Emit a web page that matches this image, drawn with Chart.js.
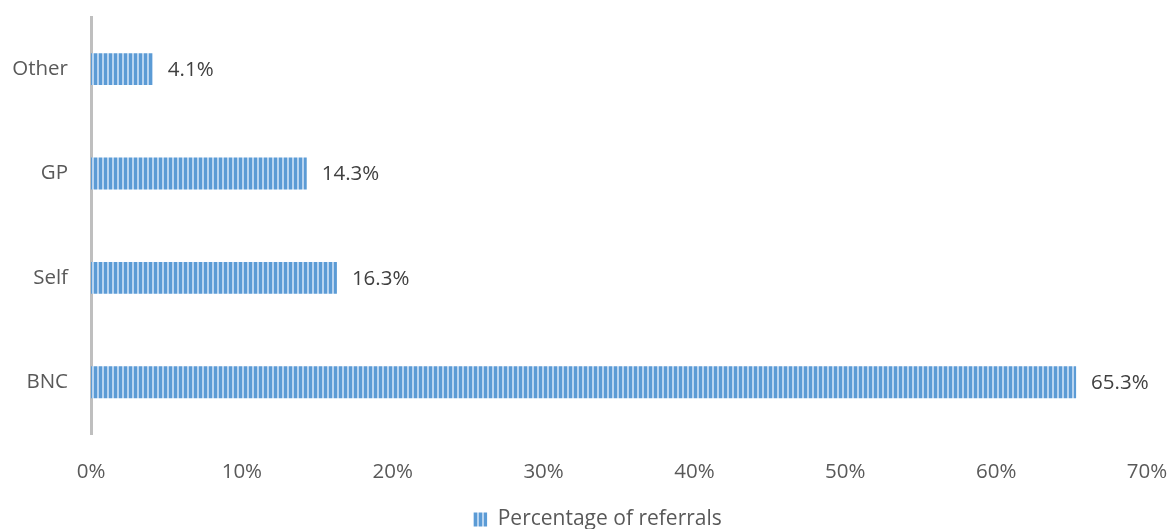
<!DOCTYPE html>
<html lang="en">
<head>
    <meta charset="UTF-8">
    <title>Percentage of referrals</title>
    <style>
        html, body {
            margin: 0;
            padding: 0;
            background: #fff;
        }
        #wrap {
            width: 1171px;
            height: 529px;
        }
    </style>
</head>
<body>
    <div id="wrap"><canvas id="referralChart" width="1171" height="529"></canvas></div>

    <script src="https://cdn.jsdelivr.net/npm/chart.js"></script>
    <script>
        const sources = ['Other', 'GP', 'Self', 'BNC'];
        const referralPct = [4.1, 14.3, 16.3, 65.3];
        const xTicks = [0, 10, 20, 30, 40, 50, 60, 70];

        // vertical stripe fill for the bars
        function stripePattern() {
            const c = document.createElement('canvas');
            c.width = 5;
            c.height = 5;
            const g = c.getContext('2d');
            g.fillStyle = '#5b9bd5';
            g.fillRect(0, 0, 5, 5);
            g.fillStyle = '#b8d4f0';
            g.fillRect(2, 0, 2, 5);
            return g.createPattern(c, 'repeat');
        }

        const fontFamily = '"Open Sans", "Liberation Sans", sans-serif';

        // prints the value to the right of each bar
        const valueLabels = {
            id: 'valueLabels',
            afterDatasetsDraw(chart) {
                const ctx = chart.ctx;
                const meta = chart.getDatasetMeta(0);
                ctx.save();
                ctx.font = '20.5px ' + fontFamily;
                ctx.fillStyle = '#404040';
                ctx.textAlign = 'left';
                ctx.textBaseline = 'middle';
                meta.data.forEach((bar, i) => {
                    ctx.fillText(referralPct[i].toFixed(1) + '%', bar.x + 15, bar.y + 1);
                });
                ctx.restore();
            }
        };

        // nudge the legend a little right of the canvas centre
        const legendShift = {
            id: 'legendShift',
            afterLayout(chart) {
                const lg = chart.legend;
                lg.left += 24;
                lg.right += 24;
                lg.top += 2;
                lg.bottom += 2;
                lg.adjustHitBoxes();
            }
        };

        const ctx = document.getElementById('referralChart').getContext('2d');
        new Chart(ctx, {
            type: 'bar',
            data: {
                labels: sources,
                datasets: [{
                    label: 'Percentage of referrals',
                    data: referralPct,
                    backgroundColor: stripePattern(),
                    borderWidth: 0,
                    barPercentage: 0.61,
                    categoryPercentage: 0.5
                }]
            },
            options: {
                indexAxis: 'y',
                responsive: false,
                animation: false,
                layout: {
                    padding: { left: 0, right: 24, top: 17, bottom: -9 }
                },
                scales: {
                    x: {
                        min: 0,
                        max: 70,
                        afterBuildTicks(axis) {
                            axis.ticks = xTicks.map(v => ({ value: v }));
                        },
                        afterFit(axis) {
                            axis.paddingLeft = 0;
                            axis.paddingRight = 0;
                        },
                        grid: { display: false },
                        border: { display: false },
                        ticks: {
                            padding: 17,
                            color: '#595959',
                            font: { family: fontFamily, size: 20.5 },
                            callback: v => v + '%'
                        }
                    },
                    y: {
                        afterFit(axis) {
                            axis.width = 91;
                            axis.paddingTop = 0;
                            axis.paddingBottom = 0;
                        },
                        grid: { display: false },
                        border: { display: true, color: '#bfbfbf', width: 3 },
                        ticks: {
                            padding: 15,
                            color: '#595959',
                            font: { family: fontFamily, size: 20.5 }
                        }
                    }
                },
                plugins: {
                    legend: {
                        position: 'bottom',
                        labels: {
                            boxWidth: 14,
                            boxHeight: 14,
                            padding: 6,
                            color: '#595959',
                            font: { family: fontFamily, size: 21 }
                        }
                    },
                    tooltip: { enabled: false }
                }
            },
            plugins: [valueLabels, legendShift]
        });
    </script>
</body>
</html>
